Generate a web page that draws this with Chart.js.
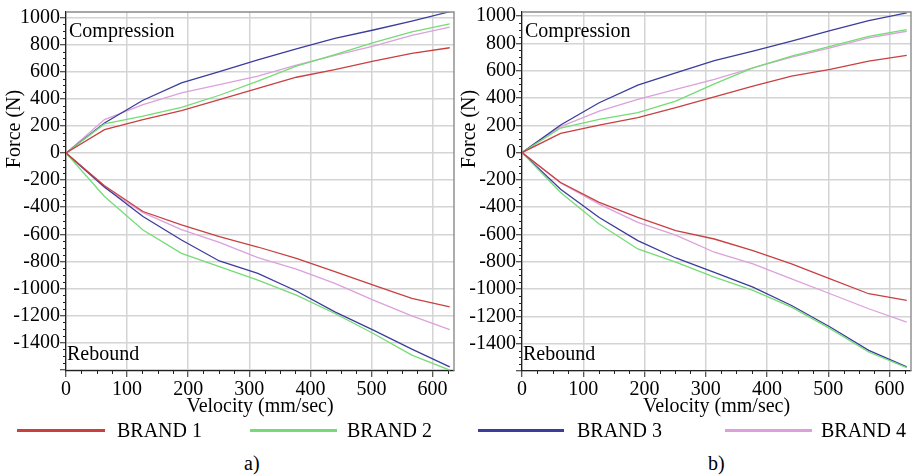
<!DOCTYPE html>
<html>
<head>
<meta charset="utf-8">
<script src="https://cdn.jsdelivr.net/npm/chart.js@4.4.0/dist/chart.umd.min.js"></script>
<style>
    body { margin: 0; background: #fff; width: 914px; height: 475px; position: relative; overflow: hidden; font-family: 'Liberation Serif', 'Times New Roman', serif; color: #000; }
    .box { position: absolute; top: 0; height: 420px; }
    #boxA { left: 0; width: 458px; }
    #boxB { left: 458px; width: 456px; }
    .leg-line { position: absolute; height: 3px; }
    .leg-text { position: absolute; font-size: 20px; line-height: 20px; white-space: nowrap; }
    .cap { position: absolute; font-size: 20px; line-height: 20px; top: 453px; }
</style>
</head>
<body>
<div class="box" id="boxA"><canvas id="chartA"></canvas></div>
<div class="box" id="boxB"><canvas id="chartB"></canvas></div>
<div id="legend"></div>
<div class="cap" style="left:244px">a)</div>
<div class="cap" style="left:708px">b)</div>

<script>
// velocity steps (mm/sec)
const velocity = [0, 63, 126, 189, 251, 314, 377, 440, 503, 566, 628];

const brands = ['BRAND 1', 'BRAND 2', 'BRAND 3', 'BRAND 4'];
const colors = ['#c84040', '#74dc74', '#3c3c9c', '#dca0dc'];

// axis ticks
const xTicks = [0, 100, 200, 300, 400, 500, 600];
const yTicks = [-1600, -1400, -1200, -1000, -800, -600, -400, -200, 0, 200, 400, 600, 800, 1000];

// chart a) - force (N)
const compA1 = [0, 173, 247, 314, 395, 477, 560, 617, 679, 736, 778];
const compA2 = [0, 215, 272, 338, 427, 531, 642, 728, 815, 896, 955];
const compA3 = [0, 222, 390, 518, 602, 689, 770, 847, 909, 975, 1044];
const compA4 = [0, 247, 358, 444, 506, 568, 650, 721, 790, 869, 931];
const rebA1 = [0, -242, -432, -530, -618, -694, -778, -876, -975, -1074, -1136];
const rebA2 = [0, -321, -568, -741, -839, -938, -1049, -1185, -1333, -1493, -1604];
const rebA3 = [0, -250, -469, -642, -797, -889, -1019, -1173, -1308, -1449, -1580];
const rebA4 = [0, -255, -440, -565, -660, -773, -857, -963, -1086, -1202, -1304];

// chart b)
const compB1 = [0, 141, 202, 256, 329, 409, 487, 560, 609, 670, 713];
const compB2 = [0, 180, 243, 292, 377, 504, 621, 706, 779, 852, 901];
const compB3 = [0, 202, 365, 494, 584, 674, 743, 816, 894, 967, 1023];
const compB4 = [0, 190, 304, 390, 463, 536, 621, 699, 767, 840, 889];
const rebB1 = [0, -219, -365, -475, -572, -633, -718, -815, -925, -1034, -1083];
const rebB2 = [0, -292, -523, -706, -803, -913, -1010, -1132, -1290, -1461, -1575];
const rebB3 = [0, -268, -475, -645, -772, -877, -986, -1120, -1278, -1449, -1570];
const rebB4 = [0, -222, -377, -511, -605, -730, -815, -925, -1034, -1144, -1242];

const FONT = '"Liberation Serif", "Times New Roman", serif';

function toPoints(values) {
    return velocity.map((v, i) => ({ x: v, y: values[i] }));
}

function makeDatasets(comp, reb) {
    const sets = [];
    comp.forEach((c, i) => {
        sets.push({ label: brands[i], data: toPoints(c), borderColor: colors[i] });
        sets.push({ label: brands[i] + ' rebound', data: toPoints(reb[i]), borderColor: colors[i] });
    });
    return sets;
}

// border on top/right, minor ticks, Compression/Rebound notes, y title
const decor = {
    id: 'decor',
    afterDraw(chart, args, opts) {
        const { ctx, chartArea: a, scales: { x, y } } = chart;
        ctx.save();
        ctx.strokeStyle = '#8a8a8a';
        ctx.lineWidth = 1.4;
        ctx.beginPath();
        ctx.moveTo(a.left, a.top);
        ctx.lineTo(a.right, a.top);
        ctx.lineTo(a.right, a.bottom);
        ctx.stroke();

        ctx.strokeStyle = '#222';
        ctx.lineWidth = 1;
        ctx.beginPath();
        for (let v = 25; v <= x.max; v += 25) {
            if (v % 100 === 0) continue;
            const px = Math.round(x.getPixelForValue(v)) + 0.5;
            ctx.moveTo(px, a.bottom);
            ctx.lineTo(px, a.bottom + 3);
        }
        for (let v = Math.ceil(y.min / 50) * 50; v <= y.max; v += 50) {
            if (v % 200 === 0) continue;
            const py = Math.round(y.getPixelForValue(v)) + 0.5;
            ctx.moveTo(a.left, py);
            ctx.lineTo(a.left - 3, py);
        }
        ctx.stroke();

        ctx.fillStyle = '#000';
        ctx.font = '20px ' + FONT;
        ctx.textBaseline = 'middle';
        ctx.textAlign = 'left';
        ctx.fillText('Compression', a.left + 3, a.top + 20);
        ctx.fillText('Rebound', a.left + 1, a.bottom - 16);

        ctx.translate(opts.titleX, 129);
        ctx.rotate(-Math.PI / 2);
        ctx.textAlign = 'center';
        ctx.fillText('Force (N)', 0, 0);
        ctx.restore();
    }
};

function makeChart(canvasId, comp, reb, cfg) {
    return new Chart(document.getElementById(canvasId), {
        type: 'line',
        data: { datasets: makeDatasets(comp, reb) },
        options: {
            responsive: true,
            maintainAspectRatio: false,
            animation: false,
            events: [],
            layout: { padding: { top: 10, right: cfg.padRight, left: 0, bottom: 0 } },
            elements: {
                line: { borderWidth: 1.3, tension: 0 },
                point: { radius: 0 }
            },
            plugins: {
                legend: { display: false },
                tooltip: { enabled: false },
                decor: { titleX: cfg.titleX }
            },
            scales: {
                x: {
                    type: 'linear',
                    min: 0,
                    max: 635,
                    afterBuildTicks: s => { s.ticks = xTicks.map(v => ({ value: v })); },
                    afterFit: s => { s.height = 49; },
                    ticks: {
                        padding: 1,
                        color: '#000',
                        font: { family: FONT, size: 20 },
                        callback: v => String(v)
                    },
                    grid: { color: '#d4d4d4', lineWidth: 1.5, tickColor: '#222', tickLength: 6, tickWidth: 1 },
                    border: { color: '#222', width: 1.3 },
                    title: {
                        display: true,
                        text: 'Velocity (mm/sec)',
                        color: '#000',
                        font: { family: FONT, size: 20 },
                        padding: { top: 0, bottom: 1 }
                    }
                },
                y: {
                    min: cfg.yMin,
                    max: cfg.yMax,
                    afterBuildTicks: s => { s.ticks = yTicks.map(v => ({ value: v })); },
                    afterFit: s => { s.width = cfg.yWidth; },
                    ticks: {
                        padding: 0,
                        color: '#000',
                        font: { family: FONT, size: 20 },
                        callback: v => (v === -1600 ? '' : String(v))
                    },
                    grid: { color: '#d4d4d4', lineWidth: 1.5, tickColor: '#222', tickLength: 6, tickWidth: 1 },
                    border: { color: '#222', width: 1.3 }
                }
            }
        },
        plugins: [decor]
    });
}

function buildAll() {
    Chart.defaults.font.family = FONT;

    makeChart('chartA',
        [compA1, compA2, compA3, compA4],
        [rebA1, rebA2, rebA3, rebA4],
        { yMin: -1610, yMax: 1042, yWidth: 66, padRight: 4, titleX: 15 });

    makeChart('chartB',
        [compB1, compB2, compB3, compB4],
        [rebB1, rebB2, rebB3, rebB4],
        { yMin: -1600, yMax: 1030, yWidth: 64, padRight: 3, titleX: 12 });
}

// shared legend under both panels
const legendSpots = [
    { line: 17, width: 88, text: 117 },
    { line: 250, width: 87, text: 347 },
    { line: 478, width: 86, text: 577 },
    { line: 725, width: 87, text: 821 }
];
const legend = document.getElementById('legend');
brands.forEach((b, i) => {
    const spot = legendSpots[i];
    const ln = document.createElement('div');
    ln.className = 'leg-line';
    ln.style.left = spot.line + 'px';
    ln.style.width = spot.width + 'px';
    ln.style.top = '429px';
    ln.style.background = colors[i];
    legend.appendChild(ln);
    const tx = document.createElement('div');
    tx.className = 'leg-text';
    tx.style.left = spot.text + 'px';
    tx.style.top = '420px';
    tx.textContent = b;
    legend.appendChild(tx);
});

// make sure the serif face is ready before the canvases draw text
document.fonts.load('20px "Liberation Serif"').then(buildAll, buildAll);
</script>
</body>
</html>
